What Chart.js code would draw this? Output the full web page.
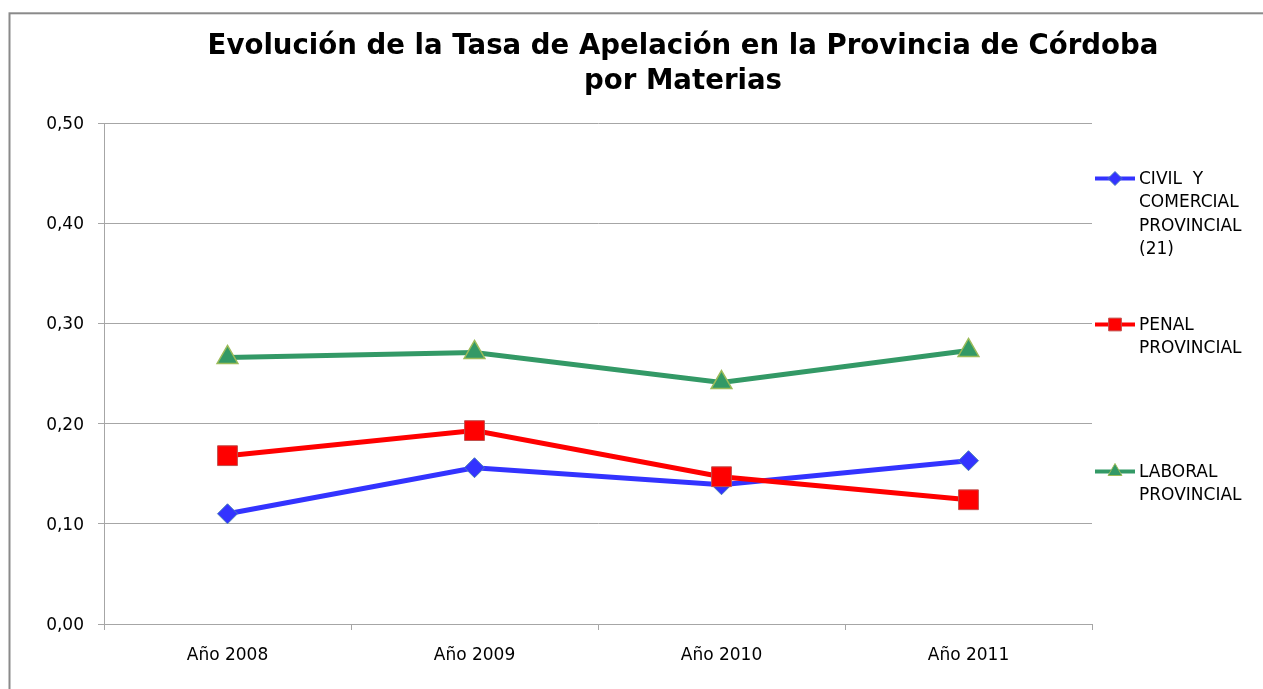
<!DOCTYPE html>
<html>
<head>
<meta charset="utf-8">
<script src="https://cdn.jsdelivr.net/npm/chart.js@4/dist/chart.umd.min.js"></script>
<style>
html,body{margin:0;padding:0;background:#fff;}
#wrap{width:1263px;height:689px;position:relative;}
</style>
</head>
<body>
<div id="wrap"><canvas id="c" width="1263" height="689"></canvas></div>
<script>
const titleLines = ["Evolución de la Tasa de Apelación en la Provincia de Córdoba", "por Materias"];
const categories = ["Año 2008", "Año 2009", "Año 2010", "Año 2011"];
const civilValues = [0.110, 0.156, 0.139, 0.163];
const penalValues = [0.168, 0.193, 0.147, 0.124];
const laboralValues = [0.266, 0.271, 0.241, 0.273];
const civilName = ["CIVIL  Y", "COMERCIAL", "PROVINCIAL", "(21)"];
const penalName = ["PENAL", "PROVINCIAL"];
const laboralName = ["LABORAL", "PROVINCIAL"];
const yMin = 0, yMax = 0.5, yStep = 0.1;

const FONT = "'DejaVu Sans', Verdana, sans-serif";
const GRID = '#a6a6a6';

const framePlugin = {
  id: 'frame',
  beforeDraw(chart) {
    const ctx = chart.ctx;
    ctx.save();
    ctx.fillStyle = '#fff';
    ctx.fillRect(0, 0, chart.width, chart.height);
    ctx.strokeStyle = '#8a8a8a';
    ctx.lineWidth = 2;
    ctx.strokeRect(9.5, 13.3, 1400, 800);
    ctx.restore();
  }
};

const titlePlugin = {
  id: 'customTitle',
  afterDraw(chart) {
    const ctx = chart.ctx;
    ctx.save();
    ctx.font = "bold 27.6px " + FONT;
    ctx.fillStyle = '#000';
    ctx.textAlign = 'center';
    ctx.textBaseline = 'middle';
    titleLines.forEach((t, i) => ctx.fillText(t, 683, 47 + i * 35));
    ctx.restore();
  }
};

const legendPlugin = {
  id: 'customLegend',
  afterDraw(chart) {
    const ctx = chart.ctx;
    const ys = [178.5, 324.5, 471.5];
    const radii = [7, 9, 8];
    ctx.save();
    chart.data.datasets.forEach((ds, i) => {
      const y = ys[i];
      ctx.strokeStyle = ds.borderColor;
      ctx.lineWidth = 4;
      ctx.beginPath();
      ctx.moveTo(1095, y);
      ctx.lineTo(1135, y);
      ctx.stroke();
      ctx.fillStyle = ds.pointBackgroundColor;
      ctx.strokeStyle = ds.pointBorderColor;
      ctx.lineWidth = 1;
      Chart.helpers.drawPoint(ctx, {pointStyle: ds.pointStyle, radius: radii[i], rotation: 0, borderWidth: 1}, 1115, y);
      ctx.fillStyle = '#000';
      ctx.font = "17px " + FONT;
      ctx.textAlign = 'left';
      ctx.textBaseline = 'middle';
      ds.legendLines.forEach((t, j) => ctx.fillText(t, 1139, y + 1 + j * 23.4));
    });
    ctx.restore();
  }
};

new Chart(document.getElementById('c'), {
  type: 'line',
  data: {
    labels: categories,
    datasets: [
      {
        label: civilName.join(' '), legendLines: civilName, data: civilValues,
        borderColor: '#3333ff', borderWidth: 5,
        pointStyle: 'rectRot', pointRadius: 10, pointHoverRadius: 10,
        pointBackgroundColor: '#3333ff', pointBorderColor: '#4a7ebb', pointBorderWidth: 1,
        order: 1
      },
      {
        label: penalName.join(' '), legendLines: penalName, data: penalValues,
        borderColor: '#ff0000', borderWidth: 5,
        pointStyle: 'rect', pointRadius: 14, pointHoverRadius: 14,
        pointBackgroundColor: '#ff0000', pointBorderColor: '#c0504d', pointBorderWidth: 1,
        order: 0
      },
      {
        label: laboralName.join(' '), legendLines: laboralName, data: laboralValues,
        borderColor: '#339966', borderWidth: 5,
        pointStyle: 'triangle', pointRadius: 12, pointHoverRadius: 12,
        pointBackgroundColor: '#339966', pointBorderColor: '#9bbb59', pointBorderWidth: 1.5,
        order: 2
      }
    ]
  },
  options: {
    responsive: false,
    animation: false,
    devicePixelRatio: 1,
    layout: { padding: { left: 0, right: 171, top: 123, bottom: 0 } },
    elements: { line: { tension: 0 } },
    plugins: { legend: { display: false }, title: { display: false }, tooltip: { enabled: false } },
    scales: {
      x: {
        type: 'category',
        offset: true,
        grid: { display: true, offset: true, drawOnChartArea: false, drawTicks: true, tickLength: 6, color: GRID, lineWidth: 1 },
        border: { display: true, color: GRID, width: 1 },
        ticks: { color: '#000', font: { family: FONT, size: 17 }, padding: 15, maxRotation: 0 },
        afterFit(s) { s.height = 65; }
      },
      y: {
        min: yMin, max: yMax,
        grid: { color: GRID, lineWidth: 1, tickLength: 6, drawTicks: true },
        border: { display: true, color: GRID, width: 1 },
        ticks: {
          stepSize: yStep, color: '#000', font: { family: FONT, size: 17 }, padding: 14, labelOffset: 1.5,
          callback: v => v.toFixed(2).replace('.', ',')
        },
        afterFit(s) { s.width = 104; }
      }
    }
  },
  plugins: [framePlugin, titlePlugin, legendPlugin]
});
</script>
</body>
</html>
